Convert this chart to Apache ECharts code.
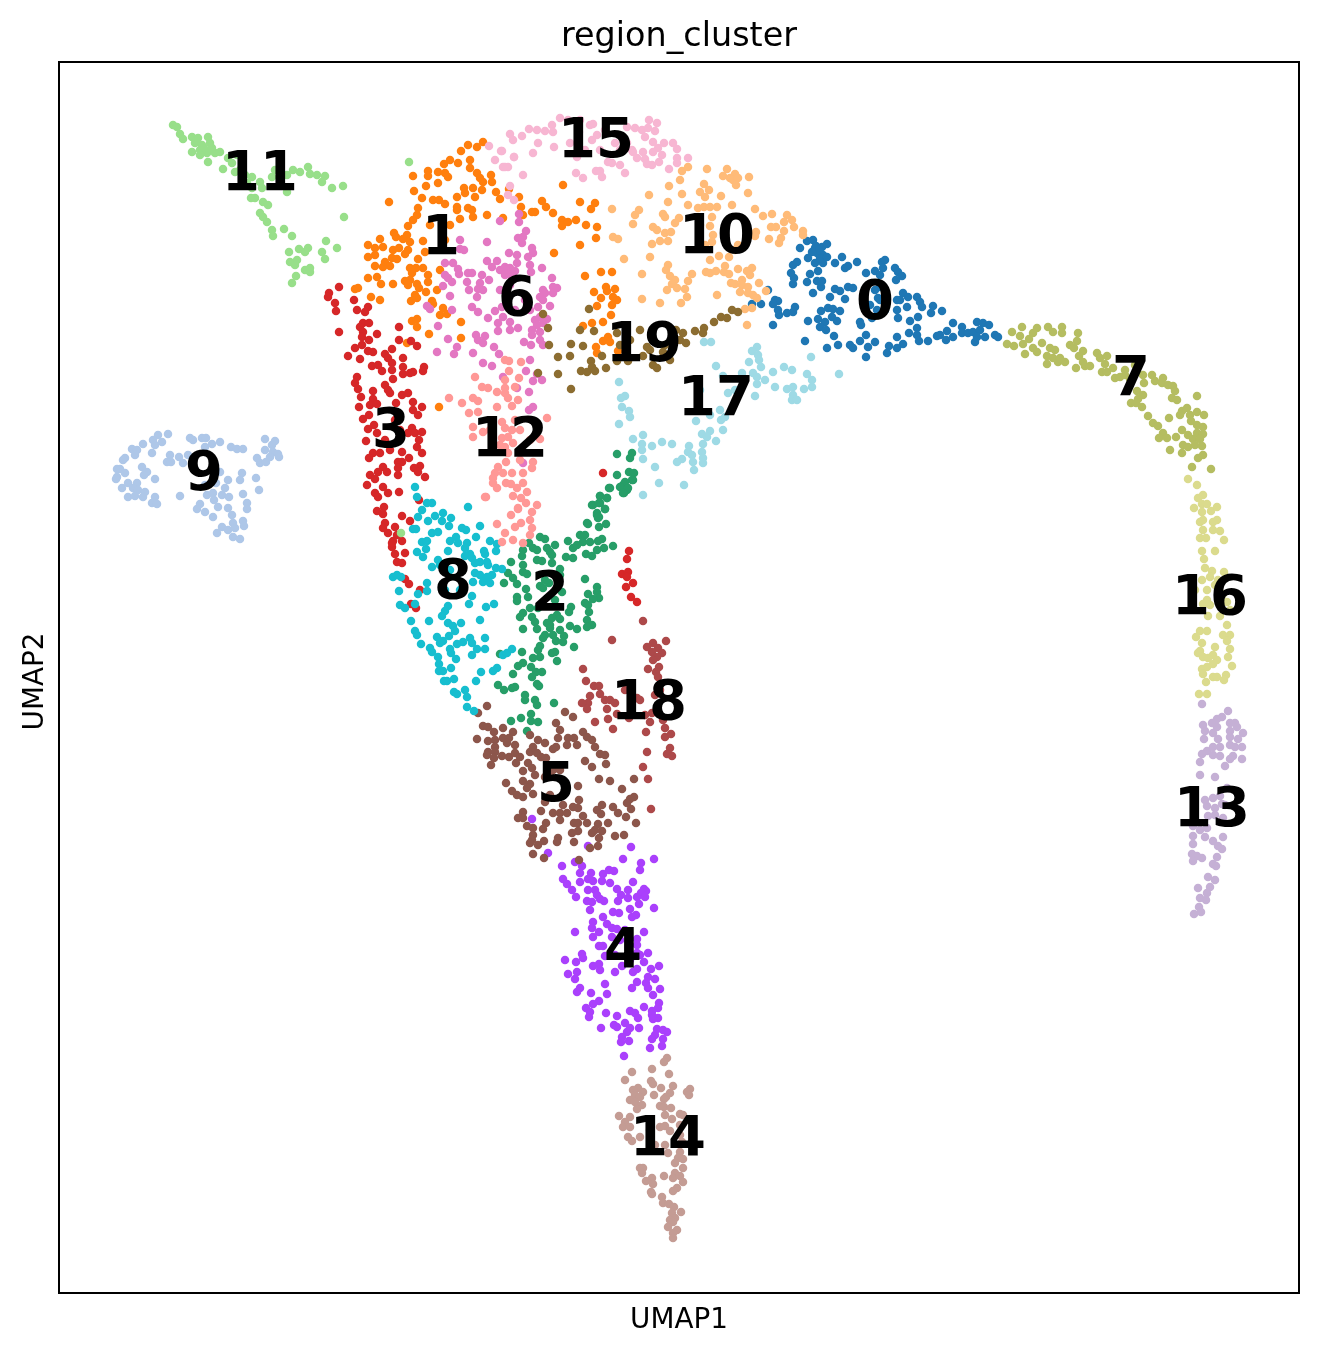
<!DOCTYPE html>
<html><head><meta charset="utf-8">
<style>html,body{margin:0;padding:0;background:#fff}#c{width:1319px;height:1353px}</style>
<script src="https://cdn.jsdelivr.net/npm/echarts@6/dist/echarts.min.js"></script>
</head><body><div id="c"></div>
<script>
const chartTitle = "region_cluster", xName = "UMAP1", yName = "UMAP2";
const clusterNames = ["0","1","2","3","4","5","6","7","8","9","10","11","12","13","14","15","16","17","18","19"];
const palette = ["#1f77b4","#ff7f0e","#279e68","#d62728","#aa40fc","#8c564b","#e377c2","#b5bd61","#17becf","#aec7e8","#ffbb78","#98df8a","#ff9896","#c5b0d5","#c49c94","#f7b6d2","#dbdb8d","#9edae5","#ad494a","#8c6d31"];
// label anchor of each cluster, in the same read-off units as the points
const labelCenters = [[875,305],[441,240],[550,596],[391,433],[623,953],[556,787],[517,301],[1131,381],[453,584],[204,476],[717,239],[260,176],[510,442],[1212,812],[668,1141],[596,143],[1210,600],[716,401],[649,705],[644,347]];

const c0 = [[752,304],[761,304],[768,290],[775,300],[778,301],[773,304],[778,310],[779,315],[787,313],[793,312],[795,307],[773,325],[808,321],[805,341],[827,348],[838,345],[850,345],[853,348],[866,357],[868,347],[875,342],[860,341],[866,335],[834,336],[818,319],[825,322],[820,327],[826,330],[821,311],[828,308],[833,309],[840,311],[832,317],[837,321],[845,299],[830,297],[835,289],[840,291],[848,287],[853,288],[813,293],[821,287],[817,281],[822,281],[807,282],[810,274],[818,271],[793,284],[794,278],[791,273],[793,265],[797,262],[808,258],[815,263],[823,263],[835,263],[842,257],[845,268],[848,266],[857,262],[800,248],[807,241],[813,240],[815,248],[822,247],[827,244],[817,253],[823,255],[820,258],[827,257],[866,273],[875,271],[882,262],[885,260],[883,268],[880,275],[895,268],[898,272],[902,276],[896,280],[880,287],[875,290],[878,298],[877,310],[860,322],[861,325],[872,318],[897,300],[903,293],[908,297],[917,297],[920,302],[922,307],[907,307],[897,310],[898,318],[900,300],[933,306],[931,313],[942,311],[910,321],[918,317],[917,328],[909,333],[917,335],[919,341],[928,341],[897,337],[903,344],[889,346],[897,348],[887,353],[937,336],[940,335],[947,331],[953,323],[946,340],[953,337],[962,327],[962,333],[968,333],[975,342],[973,332],[977,322],[983,323],[989,325],[980,330],[985,337],[977,337],[995,335],[998,337],[865,290],[880,300],[885,310],[870,305],[816,246],[819,250],[812,252]];
const c1 = [[483,142],[477,147],[468,145],[461,151],[470,160],[458,163],[450,160],[444,164],[428,171],[428,176],[438,172],[445,173],[448,177],[413,176],[414,191],[426,186],[438,183],[470,168],[477,173],[480,178],[483,182],[491,175],[492,182],[464,188],[473,188],[482,190],[496,192],[509,189],[500,199],[519,197],[521,207],[523,215],[532,212],[535,212],[542,201],[546,207],[553,213],[563,185],[580,202],[591,209],[595,203],[562,220],[562,226],[568,222],[576,220],[586,225],[597,227],[596,238],[580,245],[554,253],[585,276],[457,197],[465,193],[475,197],[422,198],[433,200],[439,200],[445,204],[418,208],[417,215],[457,207],[457,210],[468,208],[472,210],[473,217],[460,219],[487,215],[503,218],[389,202],[413,220],[408,226],[407,235],[394,233],[396,237],[403,239],[410,242],[423,241],[380,239],[368,245],[383,247],[375,248],[393,250],[399,248],[408,250],[405,254],[425,252],[418,259],[368,257],[375,255],[392,258],[397,259],[385,262],[375,266],[390,266],[383,267],[410,268],[416,268],[423,268],[412,273],[428,275],[368,278],[377,277],[410,280],[405,281],[428,282],[381,284],[393,284],[408,285],[417,284],[419,288],[426,292],[437,290],[355,289],[358,288],[371,297],[380,300],[415,295],[411,301],[417,298],[432,301],[433,304],[440,270],[443,308],[440,315],[447,314],[412,321],[417,319],[417,327],[429,334],[461,322],[461,338],[407,343],[439,407],[601,272],[612,272],[606,287],[615,289],[607,291],[594,292],[613,297],[601,298],[617,300],[597,306],[612,305],[611,315],[592,323],[583,326],[603,322],[608,337],[603,341],[610,342],[596,347],[597,353],[618,351],[430,225],[445,240],[450,225]];
const c2 = [[610,488],[623,485],[627,490],[624,493],[633,480],[600,496],[607,498],[592,505],[600,503],[605,509],[597,513],[598,518],[606,524],[587,523],[588,524],[599,527],[580,535],[585,535],[568,541],[583,542],[590,542],[602,539],[598,541],[613,546],[573,548],[577,545],[604,548],[597,550],[586,554],[592,556],[566,557],[573,558],[540,537],[545,539],[529,543],[555,545],[533,548],[537,550],[547,548],[550,552],[552,555],[523,550],[522,556],[537,560],[542,561],[511,562],[552,563],[523,565],[560,569],[523,572],[527,574],[508,573],[513,578],[517,584],[504,583],[585,579],[549,583],[540,586],[526,589],[543,588],[597,587],[597,592],[562,592],[588,594],[517,597],[528,597],[599,598],[593,599],[517,601],[585,603],[588,605],[571,607],[530,608],[538,608],[523,613],[569,612],[589,612],[520,617],[532,617],[557,615],[552,618],[560,619],[535,622],[547,623],[587,620],[550,625],[592,625],[587,627],[570,626],[523,629],[537,629],[550,628],[560,630],[577,629],[545,635],[553,635],[564,636],[543,638],[556,641],[563,642],[574,647],[540,646],[538,650],[555,652],[552,653],[522,652],[500,654],[540,657],[533,658],[557,661],[523,663],[518,666],[531,667],[542,672],[536,672],[513,674],[532,677],[537,684],[539,686],[498,685],[504,690],[512,688],[515,687],[525,695],[525,700],[535,700],[537,705],[554,703],[531,714],[531,721],[521,718],[511,721],[538,722],[527,731],[617,454],[632,453],[630,458],[629,472],[634,473],[617,475],[632,480],[625,482],[620,487],[628,488],[623,493],[609,488],[600,496],[607,498],[593,505],[599,503],[605,509],[597,515],[599,517],[545,580],[555,600],[560,575]];
const c3 = [[339,287],[329,293],[328,297],[335,303],[336,311],[354,300],[357,310],[368,307],[365,312],[363,323],[369,323],[360,327],[363,332],[362,337],[339,332],[377,334],[369,340],[399,327],[399,340],[411,341],[417,346],[362,345],[355,348],[368,351],[373,352],[392,349],[385,354],[388,358],[403,358],[348,356],[360,359],[392,363],[372,366],[378,365],[382,371],[392,370],[403,367],[424,367],[423,371],[403,374],[410,373],[413,372],[357,377],[393,379],[355,383],[358,389],[385,385],[388,390],[373,391],[390,393],[402,395],[408,393],[361,397],[373,399],[413,402],[359,407],[370,405],[377,404],[396,403],[422,407],[413,410],[369,415],[418,415],[363,419],[374,425],[368,429],[412,428],[408,433],[415,433],[422,432],[377,433],[419,440],[366,441],[417,447],[402,452],[390,450],[373,453],[380,453],[422,453],[369,458],[409,458],[398,462],[402,462],[383,467],[398,468],[378,472],[387,472],[420,466],[414,468],[398,475],[370,475],[375,479],[418,472],[425,477],[367,485],[383,487],[375,493],[388,493],[378,497],[399,492],[419,500],[384,507],[377,511],[383,514],[402,516],[410,521],[385,523],[383,528],[395,527],[388,533],[397,535],[393,541],[402,541],[392,547],[392,543],[395,554],[405,553],[397,562],[402,563],[405,579],[409,584],[420,590],[411,604],[416,608],[629,551],[627,559],[622,574],[628,572],[627,577],[633,583],[626,587],[631,597],[637,602],[603,473],[395,420],[385,440],[400,430]];
const c4 = [[532,819],[588,846],[631,847],[548,853],[623,859],[654,859],[641,863],[640,870],[562,866],[575,862],[582,866],[580,873],[591,873],[603,874],[609,870],[614,871],[563,879],[567,884],[580,882],[588,879],[593,881],[602,881],[610,883],[633,882],[572,890],[588,890],[595,890],[617,889],[628,890],[644,889],[646,891],[576,897],[597,895],[600,899],[604,901],[621,895],[628,898],[637,897],[641,893],[645,897],[587,901],[592,902],[618,901],[639,904],[654,908],[590,910],[630,909],[613,912],[619,913],[632,917],[636,915],[603,917],[593,922],[607,924],[592,928],[612,928],[617,929],[599,932],[575,932],[644,932],[593,937],[612,937],[637,939],[599,946],[603,946],[637,945],[582,954],[605,956],[637,953],[648,953],[565,960],[583,958],[576,962],[640,955],[644,962],[593,966],[599,964],[622,966],[659,966],[600,970],[577,972],[615,972],[633,972],[637,969],[651,969],[568,974],[575,979],[648,977],[655,979],[646,983],[637,982],[605,984],[632,988],[648,988],[660,989],[580,988],[577,992],[591,993],[607,994],[653,995],[599,1001],[593,1004],[586,1008],[659,1003],[658,1008],[644,1007],[590,1012],[630,1011],[606,1013],[635,1013],[652,1011],[589,1017],[617,1016],[638,1018],[652,1015],[658,1018],[653,1019],[601,1028],[614,1025],[617,1027],[625,1023],[630,1028],[639,1028],[627,1032],[657,1029],[663,1030],[667,1032],[655,1035],[663,1039],[652,1039],[622,1037],[629,1041],[621,1042],[662,1046],[650,1048],[624,1056],[620,940],[630,960],[615,955],[625,930]];
const c5 = [[487,706],[478,713],[483,726],[488,727],[494,732],[503,728],[513,732],[477,739],[488,741],[495,740],[503,738],[509,738],[507,743],[515,745],[495,747],[488,752],[487,755],[495,752],[502,756],[494,758],[491,765],[509,757],[515,753],[520,757],[516,763],[530,752],[533,747],[530,735],[538,740],[545,743],[537,753],[541,757],[546,758],[553,749],[556,747],[558,738],[560,730],[556,723],[565,712],[573,717],[568,738],[574,738],[567,745],[577,745],[583,732],[587,737],[592,740],[595,747],[600,754],[605,755],[585,761],[592,767],[606,764],[528,763],[532,768],[523,771],[535,775],[553,770],[545,777],[599,779],[610,781],[634,779],[523,781],[506,783],[530,784],[527,788],[578,786],[512,791],[517,795],[523,797],[533,794],[622,789],[634,797],[630,799],[627,803],[579,800],[602,805],[613,807],[631,809],[545,802],[563,805],[573,807],[578,808],[597,810],[618,813],[601,814],[541,811],[553,813],[560,813],[567,813],[583,816],[523,812],[518,818],[523,818],[626,817],[560,820],[636,823],[574,823],[578,823],[587,823],[598,824],[608,823],[546,823],[527,826],[533,828],[543,829],[595,830],[602,831],[578,831],[572,833],[592,833],[533,835],[615,836],[624,835],[599,838],[558,838],[532,840],[557,842],[574,842],[544,841],[530,843],[538,845],[598,846],[590,848],[533,854],[544,858],[579,860],[550,775],[565,790],[550,795],[560,770]];
const c6 = [[519,214],[500,221],[519,222],[526,231],[523,237],[518,238],[522,243],[487,242],[460,240],[460,249],[464,250],[532,248],[533,253],[528,257],[509,253],[517,255],[517,263],[487,261],[497,261],[445,263],[453,263],[458,269],[459,274],[468,273],[472,273],[492,267],[500,270],[505,267],[510,268],[530,265],[531,272],[542,268],[505,275],[512,277],[445,275],[448,278],[452,282],[443,286],[467,282],[482,275],[489,280],[480,283],[478,289],[469,290],[483,290],[477,297],[450,296],[427,306],[430,309],[452,310],[472,307],[478,312],[488,318],[495,311],[502,307],[503,317],[498,323],[510,322],[498,331],[510,330],[518,328],[438,326],[448,339],[457,347],[437,352],[454,354],[476,335],[485,336],[478,340],[483,343],[494,347],[499,354],[473,353],[483,363],[492,366],[530,360],[526,371],[537,374],[533,381],[542,380],[503,377],[517,388],[529,392],[533,407],[529,410],[523,463],[535,320],[540,317],[547,319],[537,325],[543,323],[532,330],[540,332],[532,335],[540,340],[543,345],[524,342],[531,345],[543,290],[552,278],[553,287],[557,288],[545,293],[553,293],[540,297],[543,300],[550,306],[538,307],[510,285],[525,300],[515,310],[500,290],[530,310],[506,270],[511,272],[515,271]];
const c7 = [[1007,344],[1012,332],[1014,346],[1022,327],[1020,336],[1023,344],[1025,354],[1029,339],[1033,333],[1037,328],[1033,348],[1037,352],[1042,343],[1048,327],[1053,332],[1062,327],[1062,333],[1050,348],[1055,350],[1047,356],[1047,364],[1053,358],[1058,362],[1065,362],[1060,358],[1070,345],[1074,348],[1077,341],[1078,333],[1083,351],[1079,356],[1076,368],[1083,362],[1085,366],[1090,366],[1097,353],[1100,358],[1107,356],[1105,364],[1102,372],[1107,372],[1113,368],[1115,378],[1120,377],[1125,370],[1130,379],[1137,391],[1143,395],[1138,399],[1131,403],[1136,403],[1142,407],[1148,416],[1153,423],[1158,426],[1163,433],[1159,438],[1167,438],[1176,437],[1170,450],[1169,418],[1143,375],[1144,383],[1152,375],[1155,381],[1163,378],[1162,383],[1168,385],[1173,386],[1175,391],[1172,398],[1177,400],[1197,396],[1182,411],[1187,408],[1180,415],[1190,415],[1191,421],[1197,412],[1204,415],[1197,425],[1203,427],[1182,430],[1188,435],[1197,433],[1203,434],[1193,439],[1200,439],[1183,445],[1188,447],[1195,445],[1202,446],[1182,453],[1198,458],[1203,455],[1192,467],[1211,469],[1125,375],[1135,365]];
const c8 = [[415,487],[417,497],[427,503],[432,503],[468,507],[422,510],[418,517],[428,521],[435,516],[443,513],[451,518],[442,521],[449,526],[480,526],[462,528],[466,530],[413,529],[416,529],[432,533],[438,532],[476,537],[456,537],[450,541],[458,543],[422,542],[427,541],[467,543],[490,541],[497,544],[465,548],[496,551],[417,552],[426,549],[448,551],[484,551],[485,554],[470,554],[423,557],[465,556],[472,558],[438,560],[480,562],[487,562],[432,567],[475,563],[488,565],[496,568],[502,569],[475,573],[480,575],[492,575],[487,577],[393,577],[397,575],[401,577],[483,582],[490,583],[473,582],[427,583],[427,591],[399,591],[418,594],[472,596],[400,605],[405,608],[415,604],[469,604],[486,607],[494,604],[448,606],[445,611],[442,616],[411,621],[429,621],[448,623],[453,626],[461,623],[480,620],[415,631],[455,631],[417,635],[437,637],[449,636],[485,638],[443,641],[440,643],[463,642],[470,638],[472,643],[421,644],[457,644],[430,648],[432,652],[450,649],[451,653],[477,649],[485,649],[472,655],[438,657],[456,659],[503,655],[507,653],[512,649],[439,664],[451,668],[439,671],[443,671],[497,668],[493,671],[481,672],[444,681],[447,681],[454,679],[476,681],[454,692],[457,694],[465,690],[467,697],[467,707],[474,711],[450,570],[460,590],[445,590],[440,565]];
const c9 = [[168,434],[158,435],[153,440],[162,442],[155,445],[143,444],[132,449],[137,450],[152,453],[135,455],[125,458],[123,460],[117,469],[120,469],[125,473],[117,477],[116,479],[122,488],[128,483],[137,483],[133,488],[138,490],[145,492],[128,497],[135,496],[143,497],[155,497],[152,503],[157,504],[142,467],[147,472],[144,475],[155,479],[170,455],[167,462],[171,462],[179,457],[183,463],[188,455],[190,438],[193,440],[202,438],[206,438],[205,447],[212,444],[220,442],[231,447],[237,449],[243,449],[220,472],[216,483],[228,480],[240,480],[242,473],[256,478],[259,490],[243,494],[180,496],[207,495],[213,493],[225,488],[222,495],[214,500],[229,497],[200,504],[197,509],[205,512],[213,517],[218,507],[228,508],[247,503],[247,509],[232,515],[243,521],[233,523],[244,526],[222,527],[228,530],[217,533],[233,537],[240,539],[235,528],[265,439],[275,441],[272,445],[265,450],[273,452],[278,454],[257,458],[260,463],[266,462],[270,457],[279,457],[195,470],[205,485],[215,465]];
const c10 = [[682,171],[688,167],[707,169],[727,169],[723,176],[730,178],[735,174],[733,180],[738,178],[736,185],[749,177],[680,180],[669,186],[682,194],[704,184],[700,192],[709,190],[705,197],[721,196],[748,193],[649,195],[668,202],[688,205],[698,208],[704,207],[710,207],[717,207],[732,205],[755,209],[612,209],[639,210],[635,215],[633,224],[663,214],[665,217],[679,218],[675,223],[712,217],[710,226],[653,227],[657,230],[665,233],[671,232],[613,237],[618,239],[660,241],[668,241],[652,244],[713,235],[712,242],[738,245],[756,232],[755,236],[763,216],[772,214],[787,215],[784,222],[792,220],[794,227],[771,227],[776,227],[784,231],[803,231],[803,235],[769,239],[781,238],[779,243],[650,257],[624,259],[719,256],[729,257],[710,260],[668,265],[666,270],[670,276],[642,274],[692,274],[706,272],[710,273],[716,271],[725,266],[724,272],[729,274],[738,269],[752,268],[747,271],[750,275],[675,280],[672,284],[688,281],[677,288],[685,289],[667,290],[687,297],[731,283],[735,284],[742,280],[742,285],[748,287],[759,283],[740,292],[748,293],[753,295],[757,298],[766,291],[642,299],[660,303],[681,303],[717,295],[745,309],[752,308],[747,325],[700,225],[725,235],[735,250],[705,245]];
const c11 = [[173,125],[177,127],[180,134],[183,139],[192,137],[198,138],[208,137],[195,143],[202,145],[210,143],[192,152],[200,150],[207,153],[215,153],[208,162],[220,152],[228,158],[223,169],[232,163],[252,177],[260,182],[262,188],[252,188],[255,198],[251,198],[263,202],[268,205],[260,213],[263,217],[267,222],[272,230],[273,236],[284,229],[292,236],[272,177],[287,175],[293,170],[300,172],[308,167],[310,174],[317,175],[325,176],[322,182],[332,188],[343,186],[344,217],[287,192],[326,241],[337,248],[289,252],[299,249],[308,248],[305,252],[322,252],[325,259],[290,262],[297,260],[295,265],[305,270],[310,268],[310,272],[296,276],[292,283],[237,155],[409,162],[401,533],[240,170],[245,175],[247,183],[235,172],[275,170],[280,172],[196,141],[204,148],[212,148],[200,155]];
const c12 = [[505,360],[509,361],[521,362],[475,377],[509,371],[505,380],[519,378],[482,387],[488,388],[497,392],[505,388],[515,387],[449,398],[473,398],[505,393],[508,398],[462,403],[478,401],[497,407],[512,406],[518,400],[469,413],[478,412],[502,422],[547,418],[473,427],[505,428],[512,430],[483,432],[473,437],[502,438],[508,437],[513,443],[540,439],[505,447],[508,453],[533,462],[506,462],[520,460],[532,468],[498,467],[495,473],[503,473],[512,473],[523,473],[493,478],[493,483],[497,488],[506,483],[511,484],[523,483],[517,488],[486,497],[513,496],[527,492],[521,498],[526,503],[537,505],[518,508],[532,512],[511,515],[530,520],[521,523],[515,527],[497,524],[505,533],[532,528],[530,535],[513,540],[523,543],[485,497],[518,509],[502,542],[490,430],[500,445],[520,430],[530,440],[515,420]];
const c13 = [[1202,704],[1228,711],[1222,717],[1217,719],[1203,725],[1212,723],[1217,727],[1230,723],[1235,723],[1205,731],[1213,733],[1230,731],[1237,727],[1243,733],[1218,739],[1204,739],[1230,737],[1238,739],[1213,747],[1220,747],[1230,745],[1235,747],[1242,747],[1207,751],[1202,754],[1213,755],[1220,756],[1233,756],[1230,759],[1242,759],[1200,762],[1225,766],[1200,775],[1215,777],[1227,788],[1220,796],[1213,798],[1207,806],[1215,808],[1222,804],[1223,818],[1208,816],[1193,826],[1200,830],[1207,828],[1193,836],[1205,837],[1223,837],[1213,841],[1193,844],[1218,846],[1222,849],[1192,854],[1197,856],[1193,861],[1202,858],[1217,857],[1213,864],[1216,866],[1208,877],[1215,880],[1210,887],[1198,888],[1207,893],[1200,898],[1206,900],[1199,907],[1201,912],[1194,914],[1205,800],[1225,805],[1195,820],[1215,815]];
const c14 = [[667,1058],[664,1062],[652,1069],[632,1072],[669,1074],[625,1080],[651,1081],[653,1084],[661,1088],[673,1086],[690,1089],[687,1092],[689,1095],[638,1088],[633,1090],[643,1092],[635,1095],[640,1097],[654,1095],[670,1093],[666,1097],[630,1100],[635,1102],[642,1105],[664,1099],[660,1106],[664,1107],[671,1108],[637,1109],[665,1115],[680,1114],[683,1115],[619,1116],[630,1117],[672,1119],[625,1122],[623,1127],[630,1127],[660,1127],[665,1126],[670,1131],[628,1137],[640,1137],[632,1141],[680,1135],[682,1142],[668,1153],[680,1152],[678,1158],[683,1159],[675,1163],[683,1168],[640,1168],[643,1168],[642,1173],[675,1173],[664,1176],[673,1178],[680,1176],[652,1178],[646,1181],[683,1182],[653,1184],[677,1188],[673,1191],[651,1192],[652,1194],[662,1197],[663,1203],[669,1204],[674,1207],[681,1212],[672,1213],[675,1218],[670,1220],[673,1222],[668,1227],[677,1230],[673,1233],[673,1238],[650,1130],[680,1125],[665,1145],[655,1145]];
const c15 = [[510,134],[513,140],[522,136],[529,129],[537,130],[545,131],[552,125],[560,118],[553,132],[568,120],[593,124],[597,135],[592,140],[579,132],[570,143],[538,143],[554,147],[533,153],[514,157],[502,151],[505,167],[508,167],[523,175],[576,173],[583,178],[596,171],[600,171],[602,177],[625,173],[620,165],[608,162],[612,163],[577,157],[627,127],[635,128],[642,130],[649,120],[657,123],[648,128],[655,131],[645,137],[653,142],[664,143],[673,143],[677,149],[658,148],[643,152],[653,152],[662,155],[633,152],[637,158],[645,159],[647,164],[652,165],[659,162],[677,158],[677,163],[688,158],[669,169],[632,150],[615,143],[627,143],[489,146],[501,151],[495,160],[503,167],[514,157],[510,186],[508,195],[514,200],[590,125],[585,150],[600,150],[620,150],[580,120],[605,130]];
const c16 = [[1188,479],[1197,485],[1203,495],[1198,498],[1194,508],[1202,504],[1207,504],[1211,511],[1217,507],[1202,512],[1200,522],[1203,520],[1217,520],[1213,522],[1203,530],[1213,530],[1220,531],[1200,538],[1206,538],[1224,540],[1202,551],[1215,551],[1204,559],[1205,568],[1212,571],[1210,577],[1224,572],[1202,580],[1218,580],[1207,590],[1223,594],[1207,600],[1203,604],[1227,602],[1220,616],[1208,616],[1227,625],[1200,631],[1207,631],[1196,637],[1202,643],[1223,635],[1230,635],[1227,641],[1230,649],[1200,651],[1198,653],[1215,647],[1203,657],[1213,655],[1208,658],[1228,657],[1217,660],[1213,664],[1207,667],[1202,669],[1232,666],[1203,674],[1213,677],[1217,677],[1226,675],[1224,680],[1206,682],[1199,694],[1207,694],[1195,590],[1215,585],[1230,610],[1210,605]];
const c17 = [[704,342],[711,342],[757,347],[752,351],[758,355],[759,360],[749,362],[716,366],[761,367],[753,373],[742,373],[757,377],[765,380],[757,384],[773,372],[784,367],[792,370],[807,374],[811,357],[839,374],[812,380],[812,387],[775,387],[787,389],[793,387],[804,389],[793,395],[792,400],[797,400],[755,396],[728,393],[723,376],[619,382],[625,396],[621,398],[622,407],[629,411],[630,417],[619,424],[696,421],[721,420],[725,417],[723,430],[702,434],[710,431],[707,437],[716,441],[643,435],[633,439],[662,442],[672,444],[642,444],[642,450],[652,446],[689,446],[703,444],[688,452],[702,452],[692,455],[703,458],[643,459],[682,459],[677,462],[693,462],[703,463],[655,467],[694,470],[659,483],[684,485],[643,495],[700,390],[735,390],[720,410],[710,415]];
const c18 = [[643,621],[612,640],[666,641],[653,643],[647,647],[658,648],[652,652],[662,653],[657,657],[653,660],[659,667],[648,669],[583,669],[656,672],[658,677],[586,681],[594,686],[599,686],[600,694],[590,696],[605,700],[610,700],[615,703],[588,703],[582,703],[607,709],[587,709],[637,698],[617,714],[629,718],[608,719],[595,722],[652,713],[650,722],[663,720],[613,729],[646,732],[665,728],[665,737],[671,734],[647,752],[670,748],[667,754],[672,756],[643,767],[648,779],[651,809],[625,690],[640,700],[660,690],[645,715],[655,695]];
const c19 = [[543,314],[548,328],[549,345],[558,357],[570,356],[571,344],[583,346],[580,330],[594,331],[589,309],[617,333],[602,356],[591,361],[592,367],[581,371],[587,372],[595,371],[606,368],[558,374],[571,389],[538,373],[617,361],[628,361],[643,356],[647,347],[653,365],[657,368],[663,352],[670,360],[676,330],[683,333],[686,343],[680,340],[695,331],[704,328],[703,333],[714,322],[721,317],[727,318],[732,310],[738,312],[630,340],[650,350],[640,330],[665,345],[620,345]];
const clusterPoints = [c0,c1,c2,c3,c4,c5,c6,c7,c8,c9,c10,c11,c12,c13,c14,c15,c16,c17,c18,c19];

const font = "'DejaVu Sans'";
const chart = echarts.init(document.getElementById('c'), null, {renderer:'canvas', width:1319, height:1353});
const series = clusterPoints.map((pts,i)=>({
  name: clusterNames[i], type:'scatter', data: pts, symbolSize: 8.5, symbol:'circle',
  itemStyle:{color:palette[i], opacity:1, borderWidth:0}, silent:true, z:2
}));
series.push({
  type:'scatter', symbolSize:1, silent:true, z:10, itemStyle:{color:'rgba(0,0,0,0)', opacity:1},
  data: labelCenters.map((p,i)=>({value:p, name:clusterNames[i]})),
  label:{show:true, position:'inside', opacity:1, formatter:p=>p.name, color:'#000', fontFamily:font, fontWeight:'bold', fontSize:54.5, align:'center', verticalAlign:'middle'},
  labelLayout:{hideOverlap:false}
});
chart.setOption({
  animation:false, backgroundColor:'#fff',
  title:{text:chartTitle, left:679, top:21, padding:0, textAlign:'center', textStyle:{fontFamily:font, fontWeight:'normal', fontSize:33.4, color:'#000'}},
  grid:{left:59, top:62, width:1240, height:1231, show:true, borderColor:'#000', borderWidth:2, backgroundColor:'#fff'},
  xAxis:{type:'value', min:59, max:1299, name:xName, nameLocation:'middle', nameGap:14, nameTextStyle:{fontFamily:font, fontSize:27.8, color:'#000', verticalAlign:'top'}, axisLine:{show:false}, axisTick:{show:false}, axisLabel:{show:false}, splitLine:{show:false}},
  yAxis:{type:'value', inverse:true, min:62, max:1293, name:yName, nameLocation:'middle', nameGap:9, nameRotate:90, nameTextStyle:{fontFamily:font, fontSize:27.8, color:'#000', verticalAlign:'bottom', padding:[0,8,0,0]}, axisLine:{show:false}, axisTick:{show:false}, axisLabel:{show:false}, splitLine:{show:false}},
  series
});
</script></body></html>
